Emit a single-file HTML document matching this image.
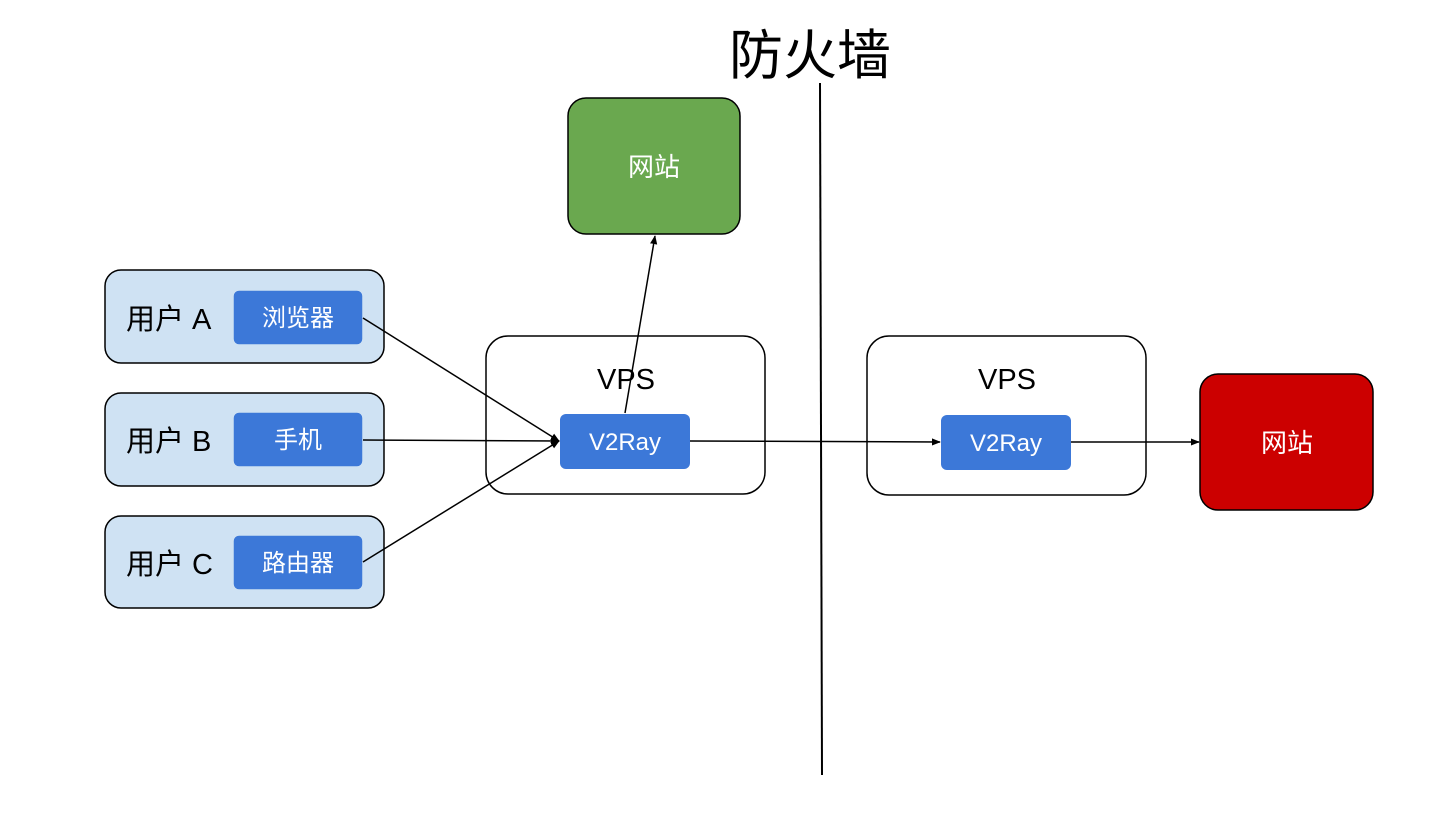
<!DOCTYPE html>
<html><head><meta charset="utf-8"><style>
body{margin:0;background:#fff;width:1456px;height:814px;overflow:hidden}
text{font-family:"Liberation Sans","Noto Sans CJK SC",sans-serif}
</style></head><body>
<svg width="1456" height="814" viewBox="0 0 1456 814">
<defs><marker id="a" viewBox="0 0 10 10" refX="9" refY="5" markerWidth="6" markerHeight="6" orient="auto"><path d="M0,1 L10,5 L0,9z" fill="#000"/></marker></defs>
<text x="810" y="74" font-size="54" text-anchor="middle" fill="#000">防火墙</text>
<line x1="820" y1="83" x2="822" y2="775" stroke="#000" stroke-width="2"/>
<rect x="568" y="98" width="172" height="136" rx="18" fill="#6aa84f" stroke="#000" stroke-width="1.5"/>
<text x="654" y="176" font-size="26" fill="#fff" text-anchor="middle">网站</text>
<g stroke="#000" stroke-width="1.5">
<rect x="105" y="270" width="279" height="93" rx="16" fill="#cfe2f3"/>
<rect x="105" y="393" width="279" height="93" rx="16" fill="#cfe2f3"/>
<rect x="105" y="516" width="279" height="92" rx="16" fill="#cfe2f3"/>
<rect x="486" y="336" width="279" height="158" rx="22" fill="#fff"/>
<rect x="867" y="336" width="279" height="159" rx="22" fill="#fff"/>
<rect x="1200" y="374" width="173" height="136" rx="18" fill="#cc0000"/>
</g>
<g fill="#3c78d8" stroke="#cfe2f3" stroke-width="1.5">
<rect x="233" y="290" width="130" height="55" rx="6"/>
<rect x="233" y="412" width="130" height="55" rx="6"/>
<rect x="233" y="535" width="130" height="55" rx="6"/>
</g>
<rect x="560" y="414" width="130" height="55" rx="6" fill="#3c78d8"/>
<rect x="941" y="415" width="130" height="55" rx="6" fill="#3c78d8"/>
<g font-size="29" fill="#000">
<text x="126" y="329">用户 A</text><text x="126" y="451">用户 B</text><text x="126" y="574">用户 C</text>
<text x="626" y="389" text-anchor="middle">VPS</text><text x="1007" y="389" text-anchor="middle">VPS</text>
</g>
<g font-size="24" fill="#fff" text-anchor="middle">
<text x="298" y="326">浏览器</text><text x="298" y="448">手机</text><text x="298" y="571">路由器</text>
<text x="625" y="450">V2Ray</text><text x="1006" y="451">V2Ray</text>
<text x="1287" y="452" font-size="26">网站</text>
</g>
<g stroke="#000" stroke-width="1.5" fill="none" marker-end="url(#a)">
<line x1="363" y1="318" x2="559" y2="441"/>
<line x1="363" y1="440" x2="559" y2="441"/>
<line x1="363" y1="562" x2="559" y2="441"/>
<line x1="625" y1="413" x2="655" y2="236"/>
<line x1="690" y1="441" x2="940" y2="442"/>
<line x1="1071" y1="442" x2="1199" y2="442"/>
</g>
</svg>
</body></html>
